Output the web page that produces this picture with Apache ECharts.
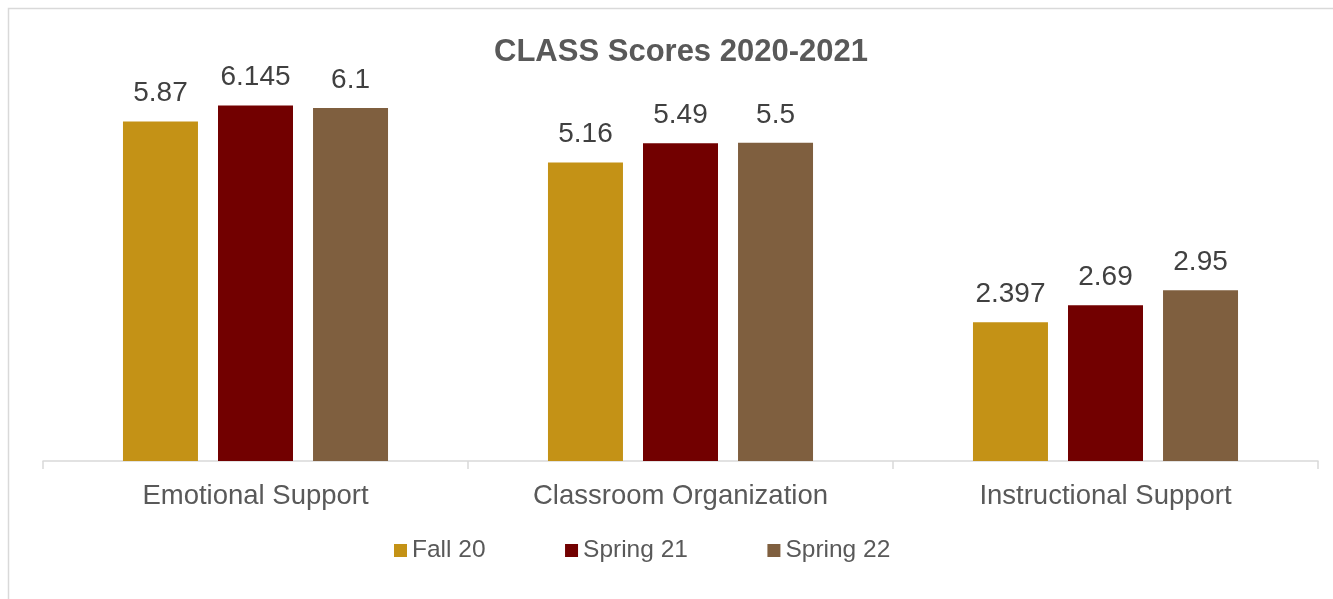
<!DOCTYPE html>
<html style="height: 100%">
<head>
<meta charset="utf-8">
</head>
<body style="height: 100%; margin: 0; background: #fff">
<div id="container" style="width: 1333px; height: 599px"></div>
<script type="text/javascript" src="https://cdn.jsdelivr.net/npm/echarts@6/dist/echarts.min.js"></script>
<script type="text/javascript">
var categories = ['Emotional Support', 'Classroom Organization', 'Instructional Support'];
var fall20 = [5.87, 5.16, 2.397];
var spring21 = [6.145, 5.49, 2.69];
var spring22 = [6.1, 5.5, 2.95];
var seriesNames = ['Fall 20', 'Spring 21', 'Spring 22'];
var colors = ['#C49216', '#720000', '#7F5F3F'];

var chart = echarts.init(document.getElementById('container'));

function barSeries(name, data, color) {
    return {
        name: name,
        type: 'bar',
        barWidth: 75,
        barGap: '26.7%',
        itemStyle: { color: color },
        label: {
            show: true,
            position: 'top',
            distance: 14,
            fontFamily: 'Liberation Sans',
            fontSize: 28,
            color: '#404040'
        },
        data: data
    };
}

var option = {
    backgroundColor: '#fff',
    animation: false,
    title: {
        text: 'CLASS Scores 2020-2021',
        left: 676,
        textAlign: 'center',
        top: 32,
        textStyle: {
            fontFamily: 'Liberation Sans',
            fontSize: 31,
            fontWeight: 'bold',
            color: '#595959'
        }
    },
    legend: {
        left: 389,
        top: 533,
        itemWidth: 13,
        itemHeight: 13,
        itemGap: 79.5,
        icon: 'rect',
        textStyle: {
            fontFamily: 'Liberation Sans',
            fontSize: 24.5,
            color: '#595959'
        },
        data: seriesNames
    },
    graphic: [{
        type: 'rect',
        shape: { x: 8.5, y: 8.5, width: 1340, height: 620 },
        style: { fill: null, stroke: '#d9d9d9', lineWidth: 1.5 },
        silent: true
    }],
    grid: {
        left: 43,
        right: 15,
        top: 56,
        bottom: 138
    },
    xAxis: {
        type: 'category',
        data: categories,
        axisLine: { lineStyle: { color: '#d9d9d9', width: 1.5 } },
        axisTick: { show: true, length: 8, lineStyle: { color: '#d9d9d9', width: 1.5 } },
        axisLabel: {
            margin: 21,
            fontFamily: 'Liberation Sans',
            fontSize: 27.5,
            color: '#595959'
        }
    },
    yAxis: {
        type: 'value',
        min: 0,
        max: 7,
        show: false
    },
    series: [
        barSeries(seriesNames[0], fall20, colors[0]),
        barSeries(seriesNames[1], spring21, colors[1]),
        barSeries(seriesNames[2], spring22, colors[2])
    ]
};

chart.setOption(option);
</script>
</body>
</html>
